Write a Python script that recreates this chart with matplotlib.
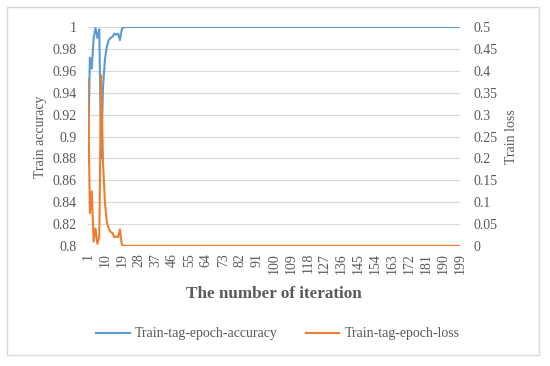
import matplotlib.pyplot as plt
from matplotlib.patches import Rectangle
import numpy as np

plt.rcParams['font.family'] = ['Liberation Serif', 'DejaVu Serif']

# values (first 20 iterations, then flat)
acc_head = [0.875, 0.972, 0.962, 0.99, 0.999, 0.99, 0.998, 0.88, 0.945, 0.97,
            0.982, 0.988, 0.99, 0.991, 0.994, 0.993, 0.994, 0.988, 0.998, 1.0]
loss_head = [0.38, 0.075, 0.125, 0.01, 0.04, 0.005, 0.02, 0.39, 0.19, 0.10,
             0.055, 0.04, 0.032, 0.03, 0.02, 0.022, 0.02, 0.038, 0.003, 0.0005]
acc_tail = [1.0] * 179
loss_tail = [0.0003] * 179

iterations = np.arange(1, 200)
accuracy = np.array(acc_head + acc_tail)
loss = np.array(loss_head + loss_tail)

xtick_vals = list(range(1, 200, 9))
acc_ticks = [0.8, 0.82, 0.84, 0.86, 0.88, 0.9, 0.92, 0.94, 0.96, 0.98, 1]
loss_ticks = [0, 0.05, 0.1, 0.15, 0.2, 0.25, 0.3, 0.35, 0.4, 0.45, 0.5]

blue = '#5B9BD5'
orange = '#ED7D31'
txt = '#595959'
grid = '#D9D9D9'

W, H = 550, 366
fig = plt.figure(figsize=(W / 100, H / 100), dpi=100)
fig.patches.append(Rectangle((7 / W, 1 - 355 / H), 532 / W, 348 / H,
                             transform=fig.transFigure, fill=False,
                             edgecolor=grid, lw=1))

ax = fig.add_axes([88 / W, 1 - 246 / H, 372 / W, 219 / H])
ax2 = ax.twinx()

l1, = ax.plot(iterations, accuracy, color=blue, lw=1.5, label='Train-tag-epoch-accuracy')
l2, = ax2.plot(iterations, loss, color=orange, lw=1.5, label='Train-tag-epoch-loss')

ax.set_xlim(1, 199)
ax.set_ylim(0.8, 1)
ax2.set_ylim(0, 0.5)
ax.set_yticks(acc_ticks)
ax.set_yticklabels(['0.8', '0.82', '0.84', '0.86', '0.88', '0.9', '0.92', '0.94', '0.96', '0.98', '1'])
ax2.set_yticks(loss_ticks)
ax2.set_yticklabels(['0', '0.05', '0.1', '0.15', '0.2', '0.25', '0.3', '0.35', '0.4', '0.45', '0.5'])
ax.set_xticks(xtick_vals)
ax.set_xticklabels([str(v) for v in xtick_vals], rotation=90)

ax.yaxis.grid(True, color=grid, lw=0.8)
ax.set_axisbelow(True)
for a in (ax, ax2):
    for s in a.spines.values():
        s.set_visible(False)
    a.tick_params(length=0, colors=txt, labelsize=10)
ax.tick_params(axis='y', pad=8)
ax2.tick_params(axis='y', pad=10)
ax.tick_params(axis='x', pad=5)

ax.set_ylabel('Train accuracy', color=txt, fontsize=10, labelpad=4)
ax2.set_ylabel('Train loss', color=txt, fontsize=10, labelpad=5)
ax.set_xlabel('The number of iteration', color=txt, fontsize=12.3,
              fontweight='bold', labelpad=9)

fig.legend(handles=[l1, l2], loc='center', bbox_to_anchor=(278 / W, 1 - 334 / H),
           ncol=2, frameon=False, fontsize=10, labelcolor=txt,
           handlelength=2.4, handletextpad=0.4, columnspacing=2.0)

fig.savefig('out.png', dpi=100)
